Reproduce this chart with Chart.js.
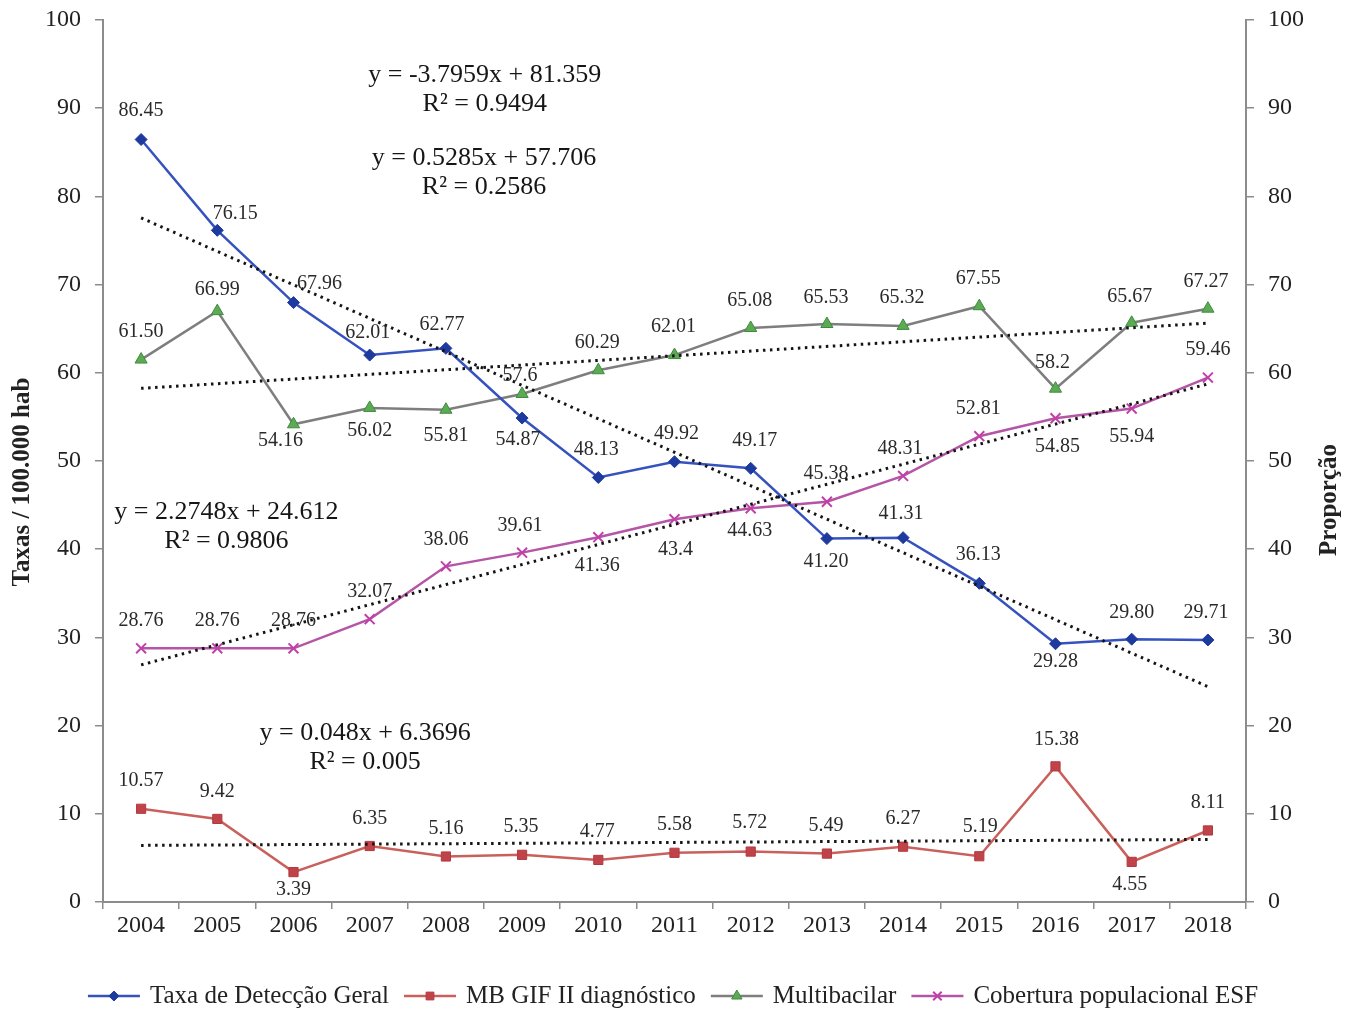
<!DOCTYPE html>
<html lang="pt">
<head>
<meta charset="utf-8">
<title>Taxa de detecção e cobertura ESF, 2004–2018</title>
<script src="https://cdn.jsdelivr.net/npm/chart.js@4/dist/chart.umd.min.js"></script>
<style>
  html, body { margin: 0; padding: 0; background: #ffffff; }
  #wrap { width: 1354px; height: 1010px; }
</style>
</head>
<body>
<div id="wrap"><canvas id="chart" width="1354" height="1010"></canvas></div>
<script>
// Years on the horizontal axis
const years = ['2004','2005','2006','2007','2008','2009','2010','2011','2012','2013','2014','2015','2016','2017','2018'];

// Printed values of each series (strings keep the printed decimals; points use the same numbers)
const taxaLabels  = ['86.45','76.15','67.96','62.01','62.77','54.87','48.13','49.92','49.17','41.20','41.31','36.13','29.28','29.80','29.71'];
const mbGifLabels = ['10.57','9.42','3.39','6.35','5.16','5.35','4.77','5.58','5.72','5.49','6.27','5.19','15.38','4.55','8.11'];
const multiLabels = ['61.50','66.99','54.16','56.02','55.81','57.6','60.29','62.01','65.08','65.53','65.32','67.55','58.2','65.67','67.27'];
const cobLabels   = ['28.76','28.76','28.76','32.07','38.06','39.61','41.36','43.4','44.63','45.38','48.31','52.81','54.85','55.94','59.46'];

const taxaValues  = taxaLabels.map(Number);
const mbGifValues = mbGifLabels.map(Number);
const multiValues = multiLabels.map(Number);
const cobValues   = cobLabels.map(Number);

// Linear trend lines: y = slope * x + intercept, x = 1..15, with R²
const trendSlope     = [-3.7959, 0.048, 0.5285, 2.2748];
const trendIntercept = [81.359, 6.3696, 57.706, 24.612];
const trendR2        = [0.9494, 0.005, 0.2586, 0.9806];

// Axis ticks
const yTicks = [0, 10, 20, 30, 40, 50, 60, 70, 80, 90, 100];

const seriesNames = ['Taxa de Detecção Geral', 'MB GIF II diagnóstico', 'Multibacilar', 'Cobertura populacional ESF'];

// ---- styling ----
const SERIF = '"Liberation Serif", "Times New Roman", serif';
const TEXT = '#222222';
const AXIS = '#8c8c8c';

const styles = [
  { line: '#3552BE', fill: '#1E3A9E', stroke: '#1E3A9E', point: 'rectRot', radius: 6 },
  { line: '#C9605C', fill: '#C0434A', stroke: '#B23A40', point: 'rect', radius: 6.5 },
  { line: '#7E7E7E', fill: '#5DAA55', stroke: '#3E8A3E', point: 'triangle', radius: 7 },
  { line: '#B455A6', fill: '#C040A8', stroke: '#C040A8', point: 'crossRot', radius: 7 }
];

// Label offsets from each point (dx, dy in px)
const labelOffsets = [
  [[0,-29],[18,-17],[26,-19],[-2,-22],[-4,-24],[-4,22],[-2,-28],[2,-28],[4,-28],[-1,23],[-2,-24],[-1,-29],[0,18],[0,-26],[-2,-27]],
  [[0,-28],[0,-27],[0,18],[0,-27],[0,-28],[-1,-28],[-1,-28],[0,-28],[-1,-29],[-1,-28],[0,-28],[1,-29],[1,-27],[-2,23],[0,-28]],
  [[0,-28],[0,-21],[-13,16],[0,23],[0,26],[-2,-18],[-1,-27],[-1,-28],[-1,-27],[-1,-26],[-1,-28],[-1,-27],[-3,-26],[-2,-26],[-2,-27]],
  [[0,-28],[0,-28],[0,-28],[0,-27],[0,-27],[-2,-27],[-1,29],[1,31],[-1,22],[-1,-28],[-3,-27],[-1,-27],[2,29],[0,28],[0,-28]]
];

// Where each trend equation is written (category index, value on the axis)
const equationAnchors = [[4.51, 93.8], [2.94, 19.1], [4.50, 84.3], [1.12, 44.2]];

const seriesLabels = [taxaLabels, mbGifLabels, multiLabels, cobLabels];
const seriesValues = [taxaValues, mbGifValues, multiValues, cobValues];

const datasets = [];
seriesValues.forEach((vals, s) => {
  const st = styles[s];
  datasets.push({
    label: seriesNames[s],
    data: vals,
    yAxisID: s === 0 ? 'y' : 'y2',
    borderColor: st.line,
    borderWidth: 2.5,
    pointStyle: st.point,
    pointRadius: st.radius,
    pointBackgroundColor: st.fill,
    pointBorderColor: st.stroke,
    pointBorderWidth: st.point === 'crossRot' ? 2 : 1,
    tension: 0,
    order: 2,
    isSeries: true,
    seriesIndex: s
  });
});

// Trend lines: two end points taken from the printed equation
trendSlope.forEach((m, s) => {
  const data = years.map(() => null);
  data[0] = m * 1 + trendIntercept[s];
  data[years.length - 1] = m * years.length + trendIntercept[s];
  datasets.push({
    label: 'trend' + s,
    data,
    yAxisID: s === 0 ? 'y' : 'y2',
    borderColor: '#141414',
    borderWidth: 3,
    borderDash: [2.5, 4.5],
    borderCapStyle: 'butt',
    pointRadius: 0,
    spanGaps: true,
    order: 0,
    isTrend: true
  });
});

// Data labels, equations, axis titles and legend
const annotate = {
  id: 'annotate',
  afterDatasetsDraw(chart) {
    const ctx = chart.ctx;
    const xs = chart.scales.x, ys = chart.scales.y;
    ctx.save();
    // values next to points
    ctx.font = '20px ' + SERIF;
    ctx.fillStyle = '#2a2a2a';
    ctx.textAlign = 'center';
    ctx.textBaseline = 'middle';
    chart.data.datasets.forEach((ds, di) => {
      if (!ds.isSeries) return;
      const meta = chart.getDatasetMeta(di);
      const labels = seriesLabels[ds.seriesIndex];
      const offs = labelOffsets[ds.seriesIndex];
      meta.data.forEach((pt, i) => {
        ctx.fillText(labels[i], pt.x + offs[i][0], pt.y + offs[i][1]);
      });
    });
    // trend equations
    ctx.font = '26px ' + SERIF;
    ctx.fillStyle = '#161616';
    trendSlope.forEach((m, s) => {
      const a = equationAnchors[s];
      const px = xs.getPixelForValue(a[0]);
      const py = ys.getPixelForValue(a[1]);
      const b = trendIntercept[s];
      const eq = 'y = ' + m + 'x + ' + b;
      ctx.fillText(eq, px, py);
      ctx.fillText('R² = ' + trendR2[s], px, py + 29);
    });
    ctx.restore();
  },
  afterDraw(chart) {
    const ctx = chart.ctx;
    ctx.save();
    // axis titles
    ctx.font = 'bold 25px ' + SERIF;
    ctx.fillStyle = TEXT;
    ctx.textAlign = 'center';
    ctx.textBaseline = 'middle';
    ctx.save();
    ctx.translate(23, 482);
    ctx.rotate(-Math.PI / 2);
    ctx.fillText('Taxas / 100.000 hab', 0, 0);
    ctx.restore();
    ctx.save();
    ctx.translate(1330, 500);
    ctx.rotate(-Math.PI / 2);
    ctx.fillText('Proporção', 0, 0);
    ctx.restore();

    // legend
    ctx.font = '25px ' + SERIF;
    ctx.textAlign = 'left';
    const lineLen = 52, gap = 10, spacing = 15;
    const widths = seriesNames.map(n => ctx.measureText(n).width);
    const total = widths.reduce((a, w) => a + lineLen + gap + w, 0) + spacing * (seriesNames.length - 1);
    let x = (chart.width - total) / 2 - 4;
    const y = 996;
    seriesNames.forEach((name, s) => {
      const st = styles[s];
      ctx.strokeStyle = st.line;
      ctx.lineWidth = 2.5;
      ctx.beginPath();
      ctx.moveTo(x, y);
      ctx.lineTo(x + lineLen, y);
      ctx.stroke();
      ctx.fillStyle = st.fill;
      ctx.strokeStyle = st.stroke;
      ctx.lineWidth = st.point === 'crossRot' ? 2 : 1;
      const opts = { pointStyle: st.point, radius: st.radius - 1, borderWidth: ctx.lineWidth, rotation: 0 };
      Chart.helpers.drawPoint(ctx, opts, x + lineLen / 2, y);
      ctx.fillStyle = TEXT;
      ctx.fillText(name, x + lineLen + gap, y);
      x += lineLen + gap + widths[s] + spacing;
    });
    ctx.restore();
  }
};

const axisCommon = {
  min: 0,
  max: 100,
  afterBuildTicks(scale) { scale.ticks = yTicks.map(v => ({ value: v })); },
  ticks: { font: { family: SERIF, size: 24 }, color: TEXT, padding: 14 },
  grid: { drawOnChartArea: false, drawTicks: true, tickLength: 8, color: AXIS, lineWidth: 1.5 },
  border: { color: AXIS, width: 2 }
};

new Chart(document.getElementById('chart'), {
  type: 'line',
  data: { labels: years, datasets },
  options: {
    responsive: false,
    animation: false,
    devicePixelRatio: 1,
    layout: { padding: { top: 20, left: 0, right: 0, bottom: 0 } },
    plugins: { legend: { display: false }, tooltip: { enabled: false } },
    scales: {
      x: {
        type: 'category',
        offset: true,
        ticks: { font: { family: SERIF, size: 24 }, color: TEXT, padding: 2, maxRotation: 0, autoSkip: false },
        grid: { offset: true, drawOnChartArea: false, drawTicks: true, tickLength: 7, color: AXIS, lineWidth: 1.5 },
        border: { color: AXIS, width: 2 },
        afterFit(scale) { scale.height = 108; scale.paddingLeft = 0; scale.paddingRight = 0; }
      },
      y: Object.assign({}, axisCommon, {
        position: 'left',
        afterFit(scale) { scale.width = 103; scale.paddingTop = 0; scale.paddingBottom = 0; }
      }),
      y2: Object.assign({}, axisCommon, {
        position: 'right',
        afterFit(scale) { scale.width = 108; scale.paddingTop = 0; scale.paddingBottom = 0; }
      })
    }
  },
  plugins: [annotate]
});
</script>
</body>
</html>
